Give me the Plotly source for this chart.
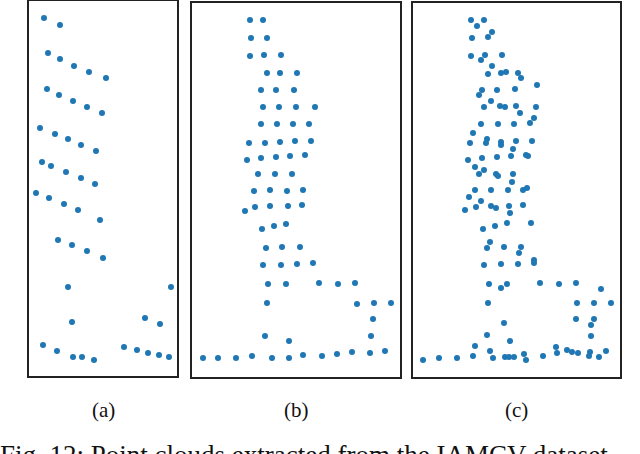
import plotly.graph_objects as go

# point clouds, one per panel (x to the right, y up from the panel floor)
a_x = [15, 31, 19, 31, 45, 60, 77, 18, 30, 44, 58, 73, 11, 26, 39, 52, 67,
       13, 22, 37, 52, 66, 7, 20, 35, 49, 71, 29, 43, 58, 74, 39, 142, 43,
       116, 131, 14, 28, 44, 53, 65, 95, 108, 119, 130, 140]
a_y = [358, 351, 323, 317, 310, 304, 298, 287, 281, 275, 269, 263, 248, 242,
       237, 231, 225, 214, 210, 204, 198, 192, 183, 178, 172, 166, 156, 136,
       131, 125, 118, 89, 89, 54, 58, 52, 31, 25, 19, 19, 16, 29, 26, 23, 21, 19]

b_x = [58, 71, 59, 75, 58, 72, 89, 75, 88, 105, 69, 84, 102, 71, 87, 104, 123,
       69, 85, 101, 117, 57, 73, 88, 103, 119, 55, 69, 84, 98, 113, 66, 83, 100,
       62, 78, 95, 111, 53, 63, 78, 96, 110, 70, 82, 94, 74, 90, 108, 71, 89,
       105, 121, 76, 94, 127, 146, 163, 75, 165, 182, 199, 181, 73, 97, 179,
       11, 26, 44, 60, 80, 97, 111, 130, 145, 160, 178, 193]
b_y = [357, 357, 339, 339, 321, 322, 322, 304, 304, 304, 287, 287, 287, 270,
       270, 270, 270, 253, 253, 253, 253, 234, 234, 235, 236, 236, 217, 219,
       220, 221, 222, 203, 203, 203, 186, 187, 186, 187, 166, 170, 171, 171,
       172, 148, 151, 153, 129, 130, 130, 112, 112, 113, 114, 93, 93, 94, 93,
       94, 74, 73, 74, 74, 58, 41, 36, 41,
       19, 19, 19, 21, 19, 19, 22, 21, 23, 25, 24, 26]

c_x = [58, 71, 64, 79, 59, 75, 58, 72, 89, 68, 79, 75, 88, 93, 105, 108, 124,
       69, 84, 102, 66, 78, 71, 87, 92, 103, 123, 107, 121, 68, 85, 101, 117,
       60, 74, 73, 57, 88, 88, 103, 119, 100, 55, 69, 84, 98, 113, 115, 62, 71,
       66, 83, 85, 100, 99, 62, 78, 95, 110, 114, 56, 68, 63, 78, 83, 96, 110,
       52, 97, 118, 94, 82, 70, 77, 74, 91, 108, 106, 121, 121, 71, 88, 105,
       76, 94, 88, 127, 146, 163, 188, 75, 164, 181, 198, 163, 181, 178, 91,
       74, 97, 178, 62, 143, 77, 144, 154, 159, 165, 177, 176, 193, 186,
       10, 26, 44, 60, 80, 92, 96, 101, 111, 113, 130]
c_y = [357, 357, 351, 345, 339, 340, 321, 322, 322, 317, 311, 303, 304, 305,
       304, 299, 292, 287, 287, 288, 282, 276, 270, 271, 270, 271, 270, 264,
       259, 253, 253, 253, 254, 244, 238, 234, 234, 235, 232, 236, 236, 228,
       217, 219, 220, 221, 222, 221, 210, 207, 203, 203, 201, 203, 195, 187,
       187, 187, 187, 189, 180, 176, 170, 171, 169, 171, 172, 167, 164, 154,
       154, 151, 148, 135, 129, 130, 130, 124, 117, 114, 112, 113, 113, 93, 93,
       89, 94, 93, 94, 88, 74, 74, 74, 74, 58, 58, 52, 54, 42, 36, 41, 31, 30,
       26, 24, 27, 25, 24, 25, 21, 26, 20,
       17, 19, 19, 21, 19, 20, 20, 20, 23, 17, 21]

labels = ["(a)", "(b)", "(c)"]
caption = "Fig. 12: Point clouds extracted from the IAMCV dataset"

W, H = 640, 454
# panel boxes in pixels: left, right, top, bottom
boxes = [(29, 177, 1, 376), (192, 400, 3, 377), (413, 620, 3, 377)]
clouds = [(a_x, a_y), (b_x, b_y), (c_x, c_y)]
blue = "#1f77b4"

fig = go.Figure()
for i, ((xs, ys), (l, r, t, b)) in enumerate(zip(clouds, boxes)):
    n = "" if i == 0 else str(i + 1)
    fig.add_trace(go.Scatter(x=xs, y=ys, mode="markers", xaxis="x" + n, yaxis="y" + n,
                             marker=dict(color=blue, size=6, line=dict(width=0)),
                             showlegend=False, hoverinfo="skip"))
    ax = dict(showgrid=False, zeroline=False, showticklabels=False, ticks="",
              showline=True, mirror=True, linecolor="#222", linewidth=2, fixedrange=True)
    fig.layout["xaxis" + n] = dict(ax, domain=[l / W, r / W], range=[0, r - l], anchor="y" + n)
    fig.layout["yaxis" + n] = dict(ax, domain=[1 - b / H, 1 - t / H], range=[0, b - t], anchor="x" + n)
    fig.add_annotation(text=labels[i], x=(l + r) / 2 / W, y=1 - 410 / H, xref="paper", yref="paper",
                       xanchor="center", yanchor="middle", showarrow=False,
                       font=dict(family="Liberation Serif", size=21, color="#111"))

# caption runs off the bottom edge, as in the source crop
fig.add_annotation(text=caption, x=-0.003, y=1 - 455 / H, xref="paper", yref="paper",
                   xanchor="left", yanchor="middle", showarrow=False,
                   font=dict(family="Liberation Serif", size=27, color="#111"))

fig.update_layout(width=W, height=H, margin=dict(l=0, r=0, t=0, b=0),
                  paper_bgcolor="white", plot_bgcolor="white")
fig.write_html("out.html", config={"displayModeBar": False},
               post_script="document.body.style.margin='0';")
